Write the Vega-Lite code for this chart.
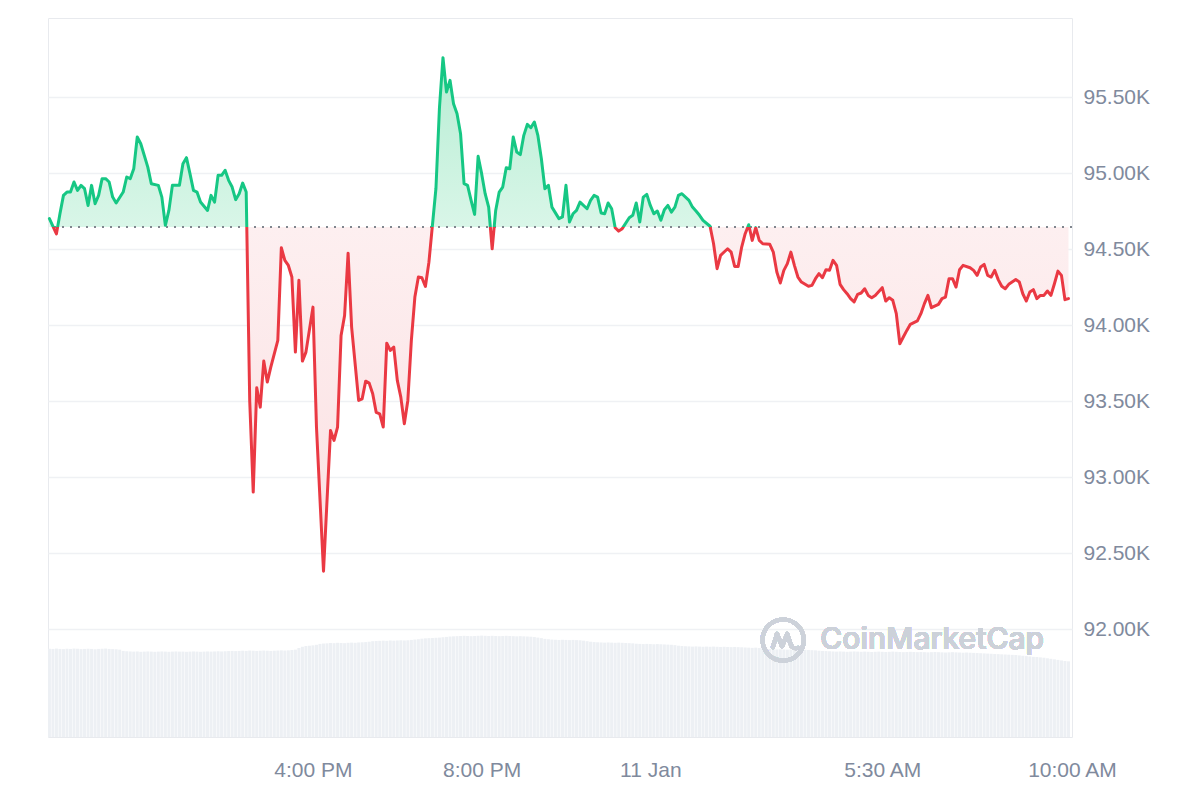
{
"$schema": "https://vega.github.io/schema/vega-lite/v6.json",
"width": 1024,
"height": 719,
"padding": {"left": 47, "top": 18, "right": 5, "bottom": 5},
"background": "#ffffff",
"config": {"view": {"stroke": "#e8eaee", "strokeWidth": 1}, "font": "Liberation Sans"},
"datasets": {
"price": [
{"t":"2025-01-10T09:45:00Z","p":94700},{"t":"2025-01-10T09:55:00Z","p":94600},
{"t":"2025-01-10T10:00:00Z","p":94732},{"t":"2025-01-10T10:05:00Z","p":94853},{"t":"2025-01-10T10:10:00Z","p":94875},{"t":"2025-01-10T10:15:00Z","p":94875},{"t":"2025-01-10T10:20:00Z","p":94941},{"t":"2025-01-10T10:25:00Z","p":94886},{"t":"2025-01-10T10:30:00Z","p":94919},{"t":"2025-01-10T10:35:00Z","p":94897},{"t":"2025-01-10T10:40:00Z","p":94787},{"t":"2025-01-10T10:45:00Z","p":94919},{"t":"2025-01-10T10:50:00Z","p":94798},{"t":"2025-01-10T10:55:00Z","p":94853},
{"t":"2025-01-10T11:00:00Z","p":94963},{"t":"2025-01-10T11:05:00Z","p":94963},{"t":"2025-01-10T11:10:00Z","p":94941},{"t":"2025-01-10T11:15:00Z","p":94842},{"t":"2025-01-10T11:20:00Z","p":94803},{"t":"2025-01-10T11:30:00Z","p":94875},{"t":"2025-01-10T11:35:00Z","p":94974},{"t":"2025-01-10T11:40:00Z","p":94963},{"t":"2025-01-10T11:45:00Z","p":95028},{"t":"2025-01-10T11:50:00Z","p":95237},{"t":"2025-01-10T11:55:00Z","p":95193},
{"t":"2025-01-10T12:05:00Z","p":95039},{"t":"2025-01-10T12:10:00Z","p":94930},{"t":"2025-01-10T12:20:00Z","p":94919},{"t":"2025-01-10T12:25:00Z","p":94842},{"t":"2025-01-10T12:30:00Z","p":94656},{"t":"2025-01-10T12:35:00Z","p":94754},{"t":"2025-01-10T12:40:00Z","p":94919},{"t":"2025-01-10T12:50:00Z","p":94919},{"t":"2025-01-10T12:55:00Z","p":95061},
{"t":"2025-01-10T13:00:00Z","p":95101},{"t":"2025-01-10T13:05:00Z","p":94996},{"t":"2025-01-10T13:10:00Z","p":94886},{"t":"2025-01-10T13:15:00Z","p":94875},{"t":"2025-01-10T13:20:00Z","p":94809},{"t":"2025-01-10T13:30:00Z","p":94754},{"t":"2025-01-10T13:35:00Z","p":94853},{"t":"2025-01-10T13:40:00Z","p":94809},{"t":"2025-01-10T13:45:00Z","p":94985},{"t":"2025-01-10T13:50:00Z","p":94985},{"t":"2025-01-10T13:55:00Z","p":95018},
{"t":"2025-01-10T14:00:00Z","p":94952},{"t":"2025-01-10T14:05:00Z","p":94908},{"t":"2025-01-10T14:10:00Z","p":94825},{"t":"2025-01-10T14:15:00Z","p":94864},{"t":"2025-01-10T14:20:00Z","p":94934},{"t":"2025-01-10T14:25:00Z","p":94875},{"t":"2025-01-10T14:30:00Z","p":93504},{"t":"2025-01-10T14:35:00Z","p":92901},{"t":"2025-01-10T14:40:00Z","p":93588},{"t":"2025-01-10T14:45:00Z","p":93460},{"t":"2025-01-10T14:50:00Z","p":93763},{"t":"2025-01-10T14:55:00Z","p":93625},
{"t":"2025-01-10T15:00:00Z","p":93723},{"t":"2025-01-10T15:10:00Z","p":93899},{"t":"2025-01-10T15:15:00Z","p":94509},{"t":"2025-01-10T15:20:00Z","p":94425},{"t":"2025-01-10T15:25:00Z","p":94392},{"t":"2025-01-10T15:30:00Z","p":94316},{"t":"2025-01-10T15:35:00Z","p":93822},{"t":"2025-01-10T15:40:00Z","p":94294},{"t":"2025-01-10T15:45:00Z","p":93763},{"t":"2025-01-10T15:50:00Z","p":93822},
{"t":"2025-01-10T16:00:00Z","p":94118},{"t":"2025-01-10T16:05:00Z","p":93329},{"t":"2025-01-10T16:15:00Z","p":92381},{"t":"2025-01-10T16:25:00Z","p":93307},{"t":"2025-01-10T16:30:00Z","p":93241},{"t":"2025-01-10T16:35:00Z","p":93329},{"t":"2025-01-10T16:40:00Z","p":93932},{"t":"2025-01-10T16:45:00Z","p":94063},{"t":"2025-01-10T16:50:00Z","p":94473},{"t":"2025-01-10T16:55:00Z","p":93987},
{"t":"2025-01-10T17:05:00Z","p":93504},{"t":"2025-01-10T17:10:00Z","p":93515},{"t":"2025-01-10T17:15:00Z","p":93631},{"t":"2025-01-10T17:20:00Z","p":93618},{"t":"2025-01-10T17:25:00Z","p":93548},{"t":"2025-01-10T17:30:00Z","p":93425},{"t":"2025-01-10T17:35:00Z","p":93416},{"t":"2025-01-10T17:40:00Z","p":93329},{"t":"2025-01-10T17:45:00Z","p":93881},{"t":"2025-01-10T17:50:00Z","p":93833},{"t":"2025-01-10T17:55:00Z","p":93855},
{"t":"2025-01-10T18:00:00Z","p":93636},{"t":"2025-01-10T18:05:00Z","p":93526},{"t":"2025-01-10T18:10:00Z","p":93351},{"t":"2025-01-10T18:15:00Z","p":93504},{"t":"2025-01-10T18:20:00Z","p":93899},{"t":"2025-01-10T18:25:00Z","p":94184},{"t":"2025-01-10T18:30:00Z","p":94316},{"t":"2025-01-10T18:35:00Z","p":94311},{"t":"2025-01-10T18:40:00Z","p":94254},{"t":"2025-01-10T18:45:00Z","p":94414},{"t":"2025-01-10T18:55:00Z","p":94900},
{"t":"2025-01-10T19:00:00Z","p":95430},{"t":"2025-01-10T19:05:00Z","p":95759},{"t":"2025-01-10T19:10:00Z","p":95533},{"t":"2025-01-10T19:15:00Z","p":95610},{"t":"2025-01-10T19:20:00Z","p":95456},{"t":"2025-01-10T19:25:00Z","p":95390},{"t":"2025-01-10T19:30:00Z","p":95259},{"t":"2025-01-10T19:35:00Z","p":94930},{"t":"2025-01-10T19:40:00Z","p":94919},{"t":"2025-01-10T19:45:00Z","p":94820},{"t":"2025-01-10T19:50:00Z","p":94728},{"t":"2025-01-10T19:55:00Z","p":95110},
{"t":"2025-01-10T20:00:00Z","p":94996},{"t":"2025-01-10T20:05:00Z","p":94864},{"t":"2025-01-10T20:10:00Z","p":94776},{"t":"2025-01-10T20:15:00Z","p":94502},{"t":"2025-01-10T20:20:00Z","p":94754},{"t":"2025-01-10T20:25:00Z","p":94875},{"t":"2025-01-10T20:30:00Z","p":94908},{"t":"2025-01-10T20:35:00Z","p":95035},{"t":"2025-01-10T20:40:00Z","p":95028},{"t":"2025-01-10T20:45:00Z","p":95237},{"t":"2025-01-10T20:50:00Z","p":95138},{"t":"2025-01-10T20:55:00Z","p":95121},
{"t":"2025-01-10T21:00:00Z","p":95248},{"t":"2025-01-10T21:05:00Z","p":95320},{"t":"2025-01-10T21:10:00Z","p":95298},{"t":"2025-01-10T21:15:00Z","p":95336},{"t":"2025-01-10T21:20:00Z","p":95248},{"t":"2025-01-10T21:25:00Z","p":95094},{"t":"2025-01-10T21:30:00Z","p":94897},{"t":"2025-01-10T21:35:00Z","p":94919},{"t":"2025-01-10T21:40:00Z","p":94776},{"t":"2025-01-10T21:50:00Z","p":94700},{"t":"2025-01-10T21:55:00Z","p":94711},
{"t":"2025-01-10T22:00:00Z","p":94919},{"t":"2025-01-10T22:05:00Z","p":94678},{"t":"2025-01-10T22:10:00Z","p":94732},{"t":"2025-01-10T22:15:00Z","p":94754},{"t":"2025-01-10T22:20:00Z","p":94809},{"t":"2025-01-10T22:30:00Z","p":94765},{"t":"2025-01-10T22:35:00Z","p":94820},{"t":"2025-01-10T22:40:00Z","p":94853},{"t":"2025-01-10T22:45:00Z","p":94842},{"t":"2025-01-10T22:50:00Z","p":94737},{"t":"2025-01-10T22:55:00Z","p":94732},
{"t":"2025-01-10T23:00:00Z","p":94803},{"t":"2025-01-10T23:05:00Z","p":94765},{"t":"2025-01-10T23:10:00Z","p":94640},{"t":"2025-01-10T23:15:00Z","p":94618},{"t":"2025-01-10T23:20:00Z","p":94634},{"t":"2025-01-10T23:30:00Z","p":94706},{"t":"2025-01-10T23:35:00Z","p":94722},{"t":"2025-01-10T23:40:00Z","p":94803},{"t":"2025-01-10T23:45:00Z","p":94678},{"t":"2025-01-10T23:50:00Z","p":94842},{"t":"2025-01-10T23:55:00Z","p":94860},
{"t":"2025-01-11T00:00:00Z","p":94787},{"t":"2025-01-11T00:05:00Z","p":94732},{"t":"2025-01-11T00:10:00Z","p":94750},{"t":"2025-01-11T00:15:00Z","p":94689},{"t":"2025-01-11T00:20:00Z","p":94759},{"t":"2025-01-11T00:25:00Z","p":94787},{"t":"2025-01-11T00:30:00Z","p":94743},{"t":"2025-01-11T00:35:00Z","p":94776},{"t":"2025-01-11T00:40:00Z","p":94853},{"t":"2025-01-11T00:45:00Z","p":94864},{"t":"2025-01-11T00:55:00Z","p":94820},
{"t":"2025-01-11T01:00:00Z","p":94776},{"t":"2025-01-11T01:05:00Z","p":94750},{"t":"2025-01-11T01:10:00Z","p":94722},{"t":"2025-01-11T01:15:00Z","p":94689},{"t":"2025-01-11T01:25:00Z","p":94650},{"t":"2025-01-11T01:30:00Z","p":94535},{"t":"2025-01-11T01:35:00Z","p":94371},{"t":"2025-01-11T01:40:00Z","p":94459},{"t":"2025-01-11T01:50:00Z","p":94502},{"t":"2025-01-11T01:55:00Z","p":94480},
{"t":"2025-01-11T02:00:00Z","p":94386},{"t":"2025-01-11T02:05:00Z","p":94386},{"t":"2025-01-11T02:10:00Z","p":94513},{"t":"2025-01-11T02:15:00Z","p":94601},{"t":"2025-01-11T02:20:00Z","p":94660},{"t":"2025-01-11T02:25:00Z","p":94557},{"t":"2025-01-11T02:30:00Z","p":94641},{"t":"2025-01-11T02:35:00Z","p":94557},{"t":"2025-01-11T02:40:00Z","p":94535},{"t":"2025-01-11T02:50:00Z","p":94531},{"t":"2025-01-11T02:55:00Z","p":94480},
{"t":"2025-01-11T03:00:00Z","p":94349},{"t":"2025-01-11T03:05:00Z","p":94277},{"t":"2025-01-11T03:10:00Z","p":94360},{"t":"2025-01-11T03:15:00Z","p":94404},{"t":"2025-01-11T03:20:00Z","p":94480},{"t":"2025-01-11T03:25:00Z","p":94393},{"t":"2025-01-11T03:30:00Z","p":94316},{"t":"2025-01-11T03:35:00Z","p":94283},{"t":"2025-01-11T03:45:00Z","p":94255},{"t":"2025-01-11T03:50:00Z","p":94261},{"t":"2025-01-11T03:55:00Z","p":94305},
{"t":"2025-01-11T04:00:00Z","p":94338},{"t":"2025-01-11T04:05:00Z","p":94312},{"t":"2025-01-11T04:10:00Z","p":94364},{"t":"2025-01-11T04:15:00Z","p":94360},{"t":"2025-01-11T04:20:00Z","p":94426},{"t":"2025-01-11T04:25:00Z","p":94393},{"t":"2025-01-11T04:30:00Z","p":94268},{"t":"2025-01-11T04:35:00Z","p":94233},{"t":"2025-01-11T04:40:00Z","p":94206},{"t":"2025-01-11T04:45:00Z","p":94174},{"t":"2025-01-11T04:50:00Z","p":94152},{"t":"2025-01-11T04:55:00Z","p":94202},
{"t":"2025-01-11T05:00:00Z","p":94211},{"t":"2025-01-11T05:05:00Z","p":94239},{"t":"2025-01-11T05:10:00Z","p":94195},{"t":"2025-01-11T05:15:00Z","p":94180},{"t":"2025-01-11T05:20:00Z","p":94195},{"t":"2025-01-11T05:30:00Z","p":94246},{"t":"2025-01-11T05:35:00Z","p":94158},{"t":"2025-01-11T05:40:00Z","p":94180},{"t":"2025-01-11T05:45:00Z","p":94163},{"t":"2025-01-11T05:50:00Z","p":94075},{"t":"2025-01-11T05:55:00Z","p":93877},
{"t":"2025-01-11T06:00:00Z","p":93921},{"t":"2025-01-11T06:05:00Z","p":93965},{"t":"2025-01-11T06:10:00Z","p":94005},{"t":"2025-01-11T06:20:00Z","p":94027},{"t":"2025-01-11T06:25:00Z","p":94075},{"t":"2025-01-11T06:30:00Z","p":94141},{"t":"2025-01-11T06:35:00Z","p":94195},{"t":"2025-01-11T06:40:00Z","p":94114},{"t":"2025-01-11T06:50:00Z","p":94136},{"t":"2025-01-11T06:55:00Z","p":94174},
{"t":"2025-01-11T07:00:00Z","p":94184},{"t":"2025-01-11T07:05:00Z","p":94305},{"t":"2025-01-11T07:10:00Z","p":94305},{"t":"2025-01-11T07:15:00Z","p":94250},{"t":"2025-01-11T07:20:00Z","p":94364},{"t":"2025-01-11T07:25:00Z","p":94393},{"t":"2025-01-11T07:35:00Z","p":94377},{"t":"2025-01-11T07:40:00Z","p":94360},{"t":"2025-01-11T07:45:00Z","p":94327},{"t":"2025-01-11T07:50:00Z","p":94382},{"t":"2025-01-11T07:55:00Z","p":94399},
{"t":"2025-01-11T08:00:00Z","p":94327},{"t":"2025-01-11T08:05:00Z","p":94316},{"t":"2025-01-11T08:10:00Z","p":94360},{"t":"2025-01-11T08:15:00Z","p":94299},{"t":"2025-01-11T08:20:00Z","p":94255},{"t":"2025-01-11T08:25:00Z","p":94239},{"t":"2025-01-11T08:30:00Z","p":94268},{"t":"2025-01-11T08:40:00Z","p":94299},{"t":"2025-01-11T08:45:00Z","p":94283},{"t":"2025-01-11T08:50:00Z","p":94206},{"t":"2025-01-11T08:55:00Z","p":94158},
{"t":"2025-01-11T09:00:00Z","p":94217},{"t":"2025-01-11T09:05:00Z","p":94233},{"t":"2025-01-11T09:10:00Z","p":94174},{"t":"2025-01-11T09:15:00Z","p":94195},{"t":"2025-01-11T09:20:00Z","p":94195},{"t":"2025-01-11T09:25:00Z","p":94224},{"t":"2025-01-11T09:30:00Z","p":94195},{"t":"2025-01-11T09:35:00Z","p":94272},{"t":"2025-01-11T09:40:00Z","p":94355},{"t":"2025-01-11T09:45:00Z","p":94327},{"t":"2025-01-11T09:50:00Z","p":94167},{"t":"2025-01-11T09:55:00Z","p":94174}
],
"vol": [
{"t":"2025-01-10T09:45:00Z","v":49.1},{"t":"2025-01-10T09:50:00Z","v":49.0},{"t":"2025-01-10T09:55:00Z","v":49.2},
{"t":"2025-01-10T10:00:00Z","v":49.0},{"t":"2025-01-10T10:05:00Z","v":48.9},{"t":"2025-01-10T10:10:00Z","v":49.1},{"t":"2025-01-10T10:15:00Z","v":49.0},{"t":"2025-01-10T10:20:00Z","v":49.2},{"t":"2025-01-10T10:25:00Z","v":49.1},{"t":"2025-01-10T10:30:00Z","v":48.9},{"t":"2025-01-10T10:35:00Z","v":49.0},{"t":"2025-01-10T10:40:00Z","v":49.1},{"t":"2025-01-10T10:45:00Z","v":49.0},{"t":"2025-01-10T10:50:00Z","v":48.8},{"t":"2025-01-10T10:55:00Z","v":49.0},
{"t":"2025-01-10T11:00:00Z","v":49.1},{"t":"2025-01-10T11:05:00Z","v":49.2},{"t":"2025-01-10T11:10:00Z","v":49.0},{"t":"2025-01-10T11:15:00Z","v":48.9},{"t":"2025-01-10T11:20:00Z","v":48.8},{"t":"2025-01-10T11:25:00Z","v":48.6},{"t":"2025-01-10T11:30:00Z","v":47.9},{"t":"2025-01-10T11:35:00Z","v":47.7},{"t":"2025-01-10T11:40:00Z","v":47.6},{"t":"2025-01-10T11:45:00Z","v":47.5},{"t":"2025-01-10T11:50:00Z","v":47.6},{"t":"2025-01-10T11:55:00Z","v":47.4},
{"t":"2025-01-10T12:00:00Z","v":47.5},{"t":"2025-01-10T12:05:00Z","v":47.6},{"t":"2025-01-10T12:10:00Z","v":47.5},{"t":"2025-01-10T12:15:00Z","v":47.4},{"t":"2025-01-10T12:20:00Z","v":47.5},{"t":"2025-01-10T12:25:00Z","v":47.6},{"t":"2025-01-10T12:30:00Z","v":47.5},{"t":"2025-01-10T12:35:00Z","v":47.4},{"t":"2025-01-10T12:40:00Z","v":47.5},{"t":"2025-01-10T12:45:00Z","v":47.6},{"t":"2025-01-10T12:50:00Z","v":47.5},{"t":"2025-01-10T12:55:00Z","v":47.5},
{"t":"2025-01-10T13:00:00Z","v":47.4},{"t":"2025-01-10T13:05:00Z","v":47.5},{"t":"2025-01-10T13:10:00Z","v":47.6},{"t":"2025-01-10T13:15:00Z","v":47.5},{"t":"2025-01-10T13:20:00Z","v":47.4},{"t":"2025-01-10T13:25:00Z","v":47.5},{"t":"2025-01-10T13:30:00Z","v":47.6},{"t":"2025-01-10T13:35:00Z","v":47.5},{"t":"2025-01-10T13:40:00Z","v":47.6},{"t":"2025-01-10T13:45:00Z","v":47.7},{"t":"2025-01-10T13:50:00Z","v":47.6},{"t":"2025-01-10T13:55:00Z","v":47.7},
{"t":"2025-01-10T14:00:00Z","v":47.8},{"t":"2025-01-10T14:05:00Z","v":47.9},{"t":"2025-01-10T14:10:00Z","v":47.8},{"t":"2025-01-10T14:15:00Z","v":47.9},{"t":"2025-01-10T14:20:00Z","v":48.0},{"t":"2025-01-10T14:25:00Z","v":47.9},{"t":"2025-01-10T14:30:00Z","v":48.1},{"t":"2025-01-10T14:35:00Z","v":48.0},{"t":"2025-01-10T14:40:00Z","v":47.9},{"t":"2025-01-10T14:45:00Z","v":48.0},{"t":"2025-01-10T14:50:00Z","v":48.1},{"t":"2025-01-10T14:55:00Z","v":48.0},
{"t":"2025-01-10T15:00:00Z","v":47.9},{"t":"2025-01-10T15:05:00Z","v":48.0},{"t":"2025-01-10T15:10:00Z","v":48.1},{"t":"2025-01-10T15:15:00Z","v":48.2},{"t":"2025-01-10T15:20:00Z","v":48.1},{"t":"2025-01-10T15:25:00Z","v":48.2},{"t":"2025-01-10T15:30:00Z","v":48.4},{"t":"2025-01-10T15:35:00Z","v":48.6},{"t":"2025-01-10T15:40:00Z","v":49.5},{"t":"2025-01-10T15:45:00Z","v":50.2},{"t":"2025-01-10T15:50:00Z","v":50.6},{"t":"2025-01-10T15:55:00Z","v":50.8},
{"t":"2025-01-10T16:00:00Z","v":51.0},{"t":"2025-01-10T16:05:00Z","v":51.3},{"t":"2025-01-10T16:10:00Z","v":51.8},{"t":"2025-01-10T16:15:00Z","v":52.0},{"t":"2025-01-10T16:20:00Z","v":52.1},{"t":"2025-01-10T16:25:00Z","v":52.3},{"t":"2025-01-10T16:30:00Z","v":52.2},{"t":"2025-01-10T16:35:00Z","v":52.4},{"t":"2025-01-10T16:40:00Z","v":52.3},{"t":"2025-01-10T16:45:00Z","v":52.2},{"t":"2025-01-10T16:50:00Z","v":52.4},{"t":"2025-01-10T16:55:00Z","v":52.5},
{"t":"2025-01-10T17:00:00Z","v":52.4},{"t":"2025-01-10T17:05:00Z","v":52.6},{"t":"2025-01-10T17:10:00Z","v":52.7},{"t":"2025-01-10T17:15:00Z","v":52.8},{"t":"2025-01-10T17:20:00Z","v":53.0},{"t":"2025-01-10T17:25:00Z","v":53.3},{"t":"2025-01-10T17:30:00Z","v":53.4},{"t":"2025-01-10T17:35:00Z","v":53.5},{"t":"2025-01-10T17:40:00Z","v":53.6},{"t":"2025-01-10T17:45:00Z","v":53.5},{"t":"2025-01-10T17:50:00Z","v":53.7},{"t":"2025-01-10T17:55:00Z","v":53.6},
{"t":"2025-01-10T18:00:00Z","v":53.7},{"t":"2025-01-10T18:05:00Z","v":53.8},{"t":"2025-01-10T18:10:00Z","v":53.7},{"t":"2025-01-10T18:15:00Z","v":53.8},{"t":"2025-01-10T18:20:00Z","v":54.0},{"t":"2025-01-10T18:25:00Z","v":54.2},{"t":"2025-01-10T18:30:00Z","v":54.4},{"t":"2025-01-10T18:35:00Z","v":54.7},{"t":"2025-01-10T18:40:00Z","v":54.9},{"t":"2025-01-10T18:45:00Z","v":55.0},{"t":"2025-01-10T18:50:00Z","v":55.1},{"t":"2025-01-10T18:55:00Z","v":55.2},
{"t":"2025-01-10T19:00:00Z","v":55.3},{"t":"2025-01-10T19:05:00Z","v":55.5},{"t":"2025-01-10T19:10:00Z","v":55.7},{"t":"2025-01-10T19:15:00Z","v":55.9},{"t":"2025-01-10T19:20:00Z","v":56.0},{"t":"2025-01-10T19:25:00Z","v":56.1},{"t":"2025-01-10T19:30:00Z","v":56.2},{"t":"2025-01-10T19:35:00Z","v":56.3},{"t":"2025-01-10T19:40:00Z","v":56.2},{"t":"2025-01-10T19:45:00Z","v":56.1},{"t":"2025-01-10T19:50:00Z","v":56.2},{"t":"2025-01-10T19:55:00Z","v":56.3},
{"t":"2025-01-10T20:00:00Z","v":56.4},{"t":"2025-01-10T20:05:00Z","v":56.3},{"t":"2025-01-10T20:10:00Z","v":56.2},{"t":"2025-01-10T20:15:00Z","v":56.3},{"t":"2025-01-10T20:20:00Z","v":56.2},{"t":"2025-01-10T20:25:00Z","v":56.1},{"t":"2025-01-10T20:30:00Z","v":56.2},{"t":"2025-01-10T20:35:00Z","v":56.3},{"t":"2025-01-10T20:40:00Z","v":56.2},{"t":"2025-01-10T20:45:00Z","v":56.1},{"t":"2025-01-10T20:50:00Z","v":56.0},{"t":"2025-01-10T20:55:00Z","v":56.1},
{"t":"2025-01-10T21:00:00Z","v":56.0},{"t":"2025-01-10T21:05:00Z","v":55.9},{"t":"2025-01-10T21:10:00Z","v":55.8},{"t":"2025-01-10T21:15:00Z","v":55.6},{"t":"2025-01-10T21:20:00Z","v":55.3},{"t":"2025-01-10T21:25:00Z","v":55.0},{"t":"2025-01-10T21:30:00Z","v":54.6},{"t":"2025-01-10T21:35:00Z","v":54.4},{"t":"2025-01-10T21:40:00Z","v":54.2},{"t":"2025-01-10T21:45:00Z","v":54.1},{"t":"2025-01-10T21:50:00Z","v":54.0},{"t":"2025-01-10T21:55:00Z","v":54.1},
{"t":"2025-01-10T22:00:00Z","v":54.0},{"t":"2025-01-10T22:05:00Z","v":53.9},{"t":"2025-01-10T22:10:00Z","v":54.0},{"t":"2025-01-10T22:15:00Z","v":53.9},{"t":"2025-01-10T22:20:00Z","v":53.8},{"t":"2025-01-10T22:25:00Z","v":53.6},{"t":"2025-01-10T22:30:00Z","v":53.3},{"t":"2025-01-10T22:35:00Z","v":53.0},{"t":"2025-01-10T22:40:00Z","v":52.8},{"t":"2025-01-10T22:45:00Z","v":52.7},{"t":"2025-01-10T22:50:00Z","v":52.6},{"t":"2025-01-10T22:55:00Z","v":52.5},
{"t":"2025-01-10T23:00:00Z","v":52.6},{"t":"2025-01-10T23:05:00Z","v":52.5},{"t":"2025-01-10T23:10:00Z","v":52.4},{"t":"2025-01-10T23:15:00Z","v":52.5},{"t":"2025-01-10T23:20:00Z","v":52.4},{"t":"2025-01-10T23:25:00Z","v":52.3},{"t":"2025-01-10T23:30:00Z","v":52.2},{"t":"2025-01-10T23:35:00Z","v":52.1},{"t":"2025-01-10T23:40:00Z","v":51.9},{"t":"2025-01-10T23:45:00Z","v":51.8},{"t":"2025-01-10T23:50:00Z","v":51.7},{"t":"2025-01-10T23:55:00Z","v":51.8},
{"t":"2025-01-11T00:00:00Z","v":51.7},{"t":"2025-01-11T00:05:00Z","v":51.6},{"t":"2025-01-11T00:10:00Z","v":51.7},{"t":"2025-01-11T00:15:00Z","v":51.6},{"t":"2025-01-11T00:20:00Z","v":51.5},{"t":"2025-01-11T00:25:00Z","v":51.4},{"t":"2025-01-11T00:30:00Z","v":51.3},{"t":"2025-01-11T00:35:00Z","v":51.1},{"t":"2025-01-11T00:40:00Z","v":50.8},{"t":"2025-01-11T00:45:00Z","v":50.6},{"t":"2025-01-11T00:50:00Z","v":50.5},{"t":"2025-01-11T00:55:00Z","v":50.4},
{"t":"2025-01-11T01:00:00Z","v":50.3},{"t":"2025-01-11T01:05:00Z","v":50.4},{"t":"2025-01-11T01:10:00Z","v":50.3},{"t":"2025-01-11T01:15:00Z","v":50.2},{"t":"2025-01-11T01:20:00Z","v":50.3},{"t":"2025-01-11T01:25:00Z","v":50.2},{"t":"2025-01-11T01:30:00Z","v":50.3},{"t":"2025-01-11T01:35:00Z","v":50.2},{"t":"2025-01-11T01:40:00Z","v":50.1},{"t":"2025-01-11T01:45:00Z","v":50.2},{"t":"2025-01-11T01:50:00Z","v":50.1},{"t":"2025-01-11T01:55:00Z","v":50.0},
{"t":"2025-01-11T02:00:00Z","v":50.1},{"t":"2025-01-11T02:05:00Z","v":50.0},{"t":"2025-01-11T02:10:00Z","v":49.9},{"t":"2025-01-11T02:15:00Z","v":49.8},{"t":"2025-01-11T02:20:00Z","v":49.7},{"t":"2025-01-11T02:25:00Z","v":49.6},{"t":"2025-01-11T02:30:00Z","v":49.7},{"t":"2025-01-11T02:35:00Z","v":49.5},{"t":"2025-01-11T02:40:00Z","v":49.3},{"t":"2025-01-11T02:45:00Z","v":49.1},{"t":"2025-01-11T02:50:00Z","v":48.9},{"t":"2025-01-11T02:55:00Z","v":48.8},
{"t":"2025-01-11T03:00:00Z","v":48.7},{"t":"2025-01-11T03:05:00Z","v":48.8},{"t":"2025-01-11T03:10:00Z","v":48.7},{"t":"2025-01-11T03:15:00Z","v":48.6},{"t":"2025-01-11T03:20:00Z","v":48.7},{"t":"2025-01-11T03:25:00Z","v":48.6},{"t":"2025-01-11T03:30:00Z","v":48.5},{"t":"2025-01-11T03:35:00Z","v":48.6},{"t":"2025-01-11T03:40:00Z","v":48.5},{"t":"2025-01-11T03:45:00Z","v":48.4},{"t":"2025-01-11T03:50:00Z","v":48.3},{"t":"2025-01-11T03:55:00Z","v":48.2},
{"t":"2025-01-11T04:00:00Z","v":48.0},{"t":"2025-01-11T04:05:00Z","v":47.9},{"t":"2025-01-11T04:10:00Z","v":47.8},{"t":"2025-01-11T04:15:00Z","v":47.7},{"t":"2025-01-11T04:20:00Z","v":47.6},{"t":"2025-01-11T04:25:00Z","v":47.5},{"t":"2025-01-11T04:30:00Z","v":47.6},{"t":"2025-01-11T04:35:00Z","v":47.5},{"t":"2025-01-11T04:40:00Z","v":47.4},{"t":"2025-01-11T04:45:00Z","v":47.5},{"t":"2025-01-11T04:50:00Z","v":47.6},{"t":"2025-01-11T04:55:00Z","v":47.5},
{"t":"2025-01-11T05:00:00Z","v":47.4},{"t":"2025-01-11T05:05:00Z","v":47.5},{"t":"2025-01-11T05:10:00Z","v":47.4},{"t":"2025-01-11T05:15:00Z","v":47.3},{"t":"2025-01-11T05:20:00Z","v":47.4},{"t":"2025-01-11T05:25:00Z","v":47.5},{"t":"2025-01-11T05:30:00Z","v":47.4},{"t":"2025-01-11T05:35:00Z","v":47.3},{"t":"2025-01-11T05:40:00Z","v":47.4},{"t":"2025-01-11T05:45:00Z","v":47.5},{"t":"2025-01-11T05:50:00Z","v":47.4},{"t":"2025-01-11T05:55:00Z","v":47.3},
{"t":"2025-01-11T06:00:00Z","v":47.2},{"t":"2025-01-11T06:05:00Z","v":47.3},{"t":"2025-01-11T06:10:00Z","v":47.4},{"t":"2025-01-11T06:15:00Z","v":47.3},{"t":"2025-01-11T06:20:00Z","v":47.2},{"t":"2025-01-11T06:25:00Z","v":47.3},{"t":"2025-01-11T06:30:00Z","v":47.2},{"t":"2025-01-11T06:35:00Z","v":47.1},{"t":"2025-01-11T06:40:00Z","v":47.2},{"t":"2025-01-11T06:45:00Z","v":47.3},{"t":"2025-01-11T06:50:00Z","v":47.2},{"t":"2025-01-11T06:55:00Z","v":47.1},
{"t":"2025-01-11T07:00:00Z","v":47.0},{"t":"2025-01-11T07:05:00Z","v":47.1},{"t":"2025-01-11T07:10:00Z","v":47.2},{"t":"2025-01-11T07:15:00Z","v":47.1},{"t":"2025-01-11T07:20:00Z","v":47.0},{"t":"2025-01-11T07:25:00Z","v":46.9},{"t":"2025-01-11T07:30:00Z","v":47.0},{"t":"2025-01-11T07:35:00Z","v":46.9},{"t":"2025-01-11T07:40:00Z","v":46.8},{"t":"2025-01-11T07:45:00Z","v":46.7},{"t":"2025-01-11T07:50:00Z","v":46.6},{"t":"2025-01-11T07:55:00Z","v":46.5},
{"t":"2025-01-11T08:00:00Z","v":46.4},{"t":"2025-01-11T08:05:00Z","v":46.3},{"t":"2025-01-11T08:10:00Z","v":46.2},{"t":"2025-01-11T08:15:00Z","v":46.1},{"t":"2025-01-11T08:20:00Z","v":46.0},{"t":"2025-01-11T08:25:00Z","v":45.9},{"t":"2025-01-11T08:30:00Z","v":45.8},{"t":"2025-01-11T08:35:00Z","v":45.7},{"t":"2025-01-11T08:40:00Z","v":45.6},{"t":"2025-01-11T08:45:00Z","v":45.4},{"t":"2025-01-11T08:50:00Z","v":45.2},{"t":"2025-01-11T08:55:00Z","v":45.0},
{"t":"2025-01-11T09:00:00Z","v":44.8},{"t":"2025-01-11T09:05:00Z","v":44.6},{"t":"2025-01-11T09:10:00Z","v":44.5},{"t":"2025-01-11T09:15:00Z","v":44.3},{"t":"2025-01-11T09:20:00Z","v":44.1},{"t":"2025-01-11T09:25:00Z","v":43.8},{"t":"2025-01-11T09:30:00Z","v":43.5},{"t":"2025-01-11T09:35:00Z","v":43.2},{"t":"2025-01-11T09:40:00Z","v":42.9},{"t":"2025-01-11T09:45:00Z","v":42.6},{"t":"2025-01-11T09:50:00Z","v":42.3},{"t":"2025-01-11T09:55:00Z","v":42.1}
]
},
"layer": [
{
"data": {"name": "vol"},
"mark": {"type": "bar", "width": 3, "color": "#edf0f4", "clip": true},
"encoding": {
"x": {"field": "t", "type": "temporal",
"scale": {"type": "utc", "padding": 0, "domain": [{"year": 2025, "month": 1, "date": 10, "hours": 9, "minutes": 43, "utc": true}, {"year": 2025, "month": 1, "date": 11, "hours": 10, "minutes": 0, "utc": true}]},
"axis": {"title": null, "grid": false, "domain": false, "ticks": false, "tickSize": 0, "labelPadding": 22, "labelFlush": false,
"values": [{"year": 2025, "month": 1, "date": 10, "hours": 16, "utc": true}, {"year": 2025, "month": 1, "date": 10, "hours": 20, "utc": true}, {"year": 2025, "month": 1, "date": 11, "hours": 0, "utc": true}, {"year": 2025, "month": 1, "date": 11, "hours": 5, "minutes": 30, "utc": true}, {"year": 2025, "month": 1, "date": 11, "hours": 10, "utc": true}],
"labelExpr": "(utchours(datum.value) == 0 && utcminutes(datum.value) == 0) ? utcFormat(datum.value, '%-d %b') : utcFormat(datum.value, '%-I:%M %p')",
"labelFont": "Liberation Sans", "labelFontSize": 21, "labelColor": "#808a9d"}},
"y": {"field": "v", "type": "quantitative", "scale": {"domain": [0, 400], "nice": false}, "axis": null}
}
},
{
"data": {"name": "price"},
"encoding": {
"x": {"field": "t", "type": "temporal"},
"y": {"field": "p", "type": "quantitative",
"scale": {"domain": [91290, 96020], "nice": false, "zero": false},
"axis": {"orient": "right", "title": null, "domain": false, "ticks": false, "tickSize": 0, "labelPadding": 11,
"values": [92000, 92500, 93000, 93500, 94000, 94500, 95000, 95500],
"labelExpr": "format(datum.value / 1000, '.2f') + 'K'",
"labelFont": "Liberation Sans", "labelFontSize": 21, "labelColor": "#808a9d",
"grid": true, "gridColor": "#eff1f4", "gridWidth": 1.5}}
},
"layer": [
{
"mark": {"type": "point", "shape": "circle", "filled": false, "stroke": "#cdd2da", "strokeWidth": 4, "size": 1700},
"encoding": {
"x": {"datum": {"year": 2025, "month": 1, "date": 11, "hours": 3, "minutes": 9, "utc": true}, "type": "temporal"},
"y": {"datum": 91928, "type": "quantitative"}
}
},
{
"mark": {"type": "point", "shape": "M -0.5 0.35 L -0.3 -0.3 L -0.05 0.3 L 0.2 -0.3 L 0.36 0.2 Q 0.45 0.45 0.72 0.38", "filled": false, "stroke": "#cdd2da", "strokeWidth": 4, "strokeJoin": "round", "strokeCap": "round", "size": 1700},
"encoding": {
"x": {"datum": {"year": 2025, "month": 1, "date": 11, "hours": 3, "minutes": 9, "utc": true}, "type": "temporal"},
"y": {"datum": 91928, "type": "quantitative"}
}
},
{
"mark": {"type": "text", "text": "CoinMarketCap", "font": "Inter", "fontSize": 30, "fontWeight": 500, "color": "#ccd1d9", "align": "center", "baseline": "middle"},
"encoding": {
"x": {"datum": {"year": 2025, "month": 1, "date": 11, "hours": 6, "minutes": 41, "utc": true}, "type": "temporal"},
"y": {"datum": 91928, "type": "quantitative"}
}
},
{
"mark": {"type": "area",
"fill": {"gradient": "linear", "x1": 0, "y1": 0, "x2": 0, "y2": 1, "stops": [{"offset": 0, "color": "#b6edd3"}, {"offset": 0.3298, "color": "#d9f6e8"}, {"offset": 0.3298, "color": "#fdeff0"}, {"offset": 1, "color": "#fbe0e2"}]}},
"encoding": {
"y2": {"datum": 94645}
}
},
{
"mark": {"type": "rule", "color": "#80868f", "strokeWidth": 1.5, "strokeDash": [2, 6]},
"encoding": {
"x": null,
"y": {"datum": 94645, "type": "quantitative"}
}
},
{
"mark": {"type": "line", "strokeWidth": 3, "strokeJoin": "round", "strokeCap": "round",
"stroke": {"gradient": "linear", "x1": 0, "y1": 0, "x2": 0, "y2": 1, "stops": [{"offset": 0, "color": "#16c784"}, {"offset": 0.3298, "color": "#16c784"}, {"offset": 0.3298, "color": "#ea3943"}, {"offset": 1, "color": "#ea3943"}]}},
"encoding": {}
}
]
}
],
"resolve": {"scale": {"y": "independent"}}
}
